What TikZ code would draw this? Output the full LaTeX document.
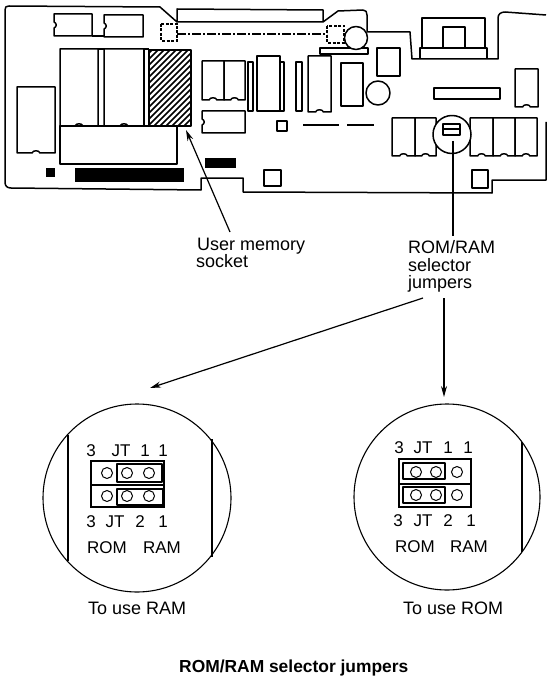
\documentclass[tikz,border=0pt]{standalone}
\usepackage{fontspec}
\setmainfont{Liberation Sans}
\usetikzlibrary{arrows.meta}
\tikzset{
  board/.style={line width=1.5pt,line join=round,black},
  thin part/.style={line width=1.1pt,black},
  dash part/.style={line width=1.1pt,dash pattern=on 3pt off 1.5pt,black},
  leader/.style={line width=1.2pt,black},
  tipped/.style={leader,-{Stealth[length=11pt,width=6pt]}},
  lab/.style={anchor=base west,inner sep=0pt,font=\fontsize{18}{20}\selectfont},
  jp/.style={anchor=base,inner sep=0pt,font=\fontsize{17}{20}\selectfont},
  pin/.style={circle,draw,line width=1pt,minimum size=11pt,inner sep=0pt},
}
% chip whose bottom edge has a notch at its centre, dented upwards
\newcommand{\chipb}[4]{\draw[board] (#1,#2) -- (#3,#2) -- (#3,#4) -- ({(#1+#3)/2+4},#4) .. controls ({(#1+#3)/2+3},{#4-3}) and ({(#1+#3)/2-3},{#4-3}) .. ({(#1+#3)/2-4},#4) -- (#1,#4) -- cycle;}
% chip whose left edge has a notch at its centre, dented inwards
\newcommand{\chipl}[4]{\draw[board] (#1,#2) -- (#3,#2) -- (#3,#4) -- (#1,#4) -- (#1,{(#2+#4)/2+3}) .. controls ({#1+3},{(#2+#4)/2+2}) and ({#1+3},{(#2+#4)/2-2}) .. (#1,{(#2+#4)/2-3}) -- cycle;}
\begin{document}
\begin{tikzpicture}[x=1pt,y=-1pt]
\useasboundingbox (0,0) rectangle (547,679);
% board outline
\draw[board] (9,6) -- (160,7) -- (177,22) -- (177,9) -- (323,10) -- (323,22) -- (177,22)
  (323,22) -- (338,11) -- (363,10) .. controls (366,10) and (367,12) .. (367,15) -- (367,32) -- (410,32)
  -- (412,59) -- (498,59) -- (498,18) .. controls (498,14) and (501,12) .. (505,12) -- (546,15)
  (546,122) -- (546,180) -- (492,180) -- (492,193) -- (243,192) -- (243,178) -- (201,178) -- (201,190)
  -- (11,188) .. controls (7,188) and (5,186) .. (5,182) -- (5,10) .. controls (5,7) and (6,6) .. (9,6);
% top-left
\chipl{54}{14}{92}{36}
\chipl{104}{15}{143}{37}
\draw[board] (92,36) -- (104,36);
\draw[dash part] (161,24) rectangle (177,41);
\draw[dash part] (327,26) rectangle (344,43);
\draw[line width=1.1pt,dash pattern=on 9pt off 2pt on 2pt off 2pt,black] (177,34) -- (327,34);
% memory block
\chipb{60}{49}{98}{126}
\chipb{104}{49}{144}{126}
\draw[board] (98,49) -- (104,49) (144,49) -- (149,49) (144,49)--(144,126);
\draw[board] (60,126) -- (177,126) -- (177,164) -- (60,164) -- cycle;
\begin{scope}
  \clip (149,50) rectangle (191,126);
  \foreach \k in {60,66,...,200}{\draw[line width=1.5pt,black] (\k,130) -- (\k+90,40);}
\end{scope}
\draw[board] (149,50) rectangle (191,126);
\chipb{17}{87}{55}{153}
\fill[black] (46,168) rectangle (55,177);
\fill[black] (75,168) rectangle (184,182);
\fill[black] (205,158) rectangle (236,168);
% middle
\chipb{202}{61}{224}{100}
\chipb{224}{61}{245}{100}
\draw[board] (248,62) rectangle (253,111);
\chipl{202}{111}{245}{133}
\draw[board] (257,56) rectangle (280,111);
\draw[board] (280,62) rectangle (284,111);
\draw[board] (296,62) rectangle (302,111);
\chipb{308}{56}{331}{112}
\draw[board] (341,63) rectangle (363,106);
\draw[board] (378,93) circle (12);
\draw[board] (377,48) rectangle (400,76);
\draw[board] (320,48) rectangle (368,54);
\draw[board,fill=white] (356,38) circle (11.5);
\draw[board] (277,121) rectangle (287,131);
\draw[board] (303,125) -- (339,125) (347,125) -- (374,125);
\draw[board] (264,170) rectangle (281,186);
\draw[board] (472,170) rectangle (488,188);
% connector on the right
\draw[board] (422,48) -- (422,18) -- (485,18) -- (485,48) (443,48) -- (443,27) -- (465,27) -- (465,48);
\draw[board] (420,59) -- (420,48) -- (487,48) -- (487,59);
\draw[board] (434,88) rectangle (500,99);
\chipb{515}{69}{538}{107}
% lower right row
\chipb{392}{118}{415}{156}
\chipb{415}{118}{436}{156}
\chipb{470}{118}{493}{156}
\chipb{493}{118}{515}{156}
\chipb{515}{118}{537}{156}
\draw[board,fill=white] (452,134.5) circle (19);
\draw[board] (443,124) rectangle (460,135) (443,129) -- (460,129);
\coordinate (sel) at (453,141);
\coordinate (selend) at (453,236);
\coordinate (memtip) at (186,130);
\coordinate (memend) at (230,232);
\draw[leader] (sel) -- (selend);
\draw[tipped] (memend) -- (memtip);
% labels
\node[lab] (um1) at (197,250) {User memory};
\node[lab] (um2) at (196,267) {socket};
\node[lab] (sj1) at (408,253) {ROM/RAM};
\node[lab] (sj2) at (408,271) {selector};
\node[lab] (sj3) at (408,288) {jumpers};
% arrows to details
\coordinate (a0) at (423,298);
\coordinate (a1) at (150,388);
\coordinate (b0) at (444,298);
\coordinate (b1) at (444,397);
\draw[tipped] (a0) -- (a1);
\draw[tipped] (b0) -- (b1);
% left detail
\draw[line width=1.1pt] (137,498) circle (94);
\draw[line width=1.1pt] (68,435) -- (68,561) (212,439) -- (212,557);
\draw[line width=1.1pt] (91,461) rectangle (164,507) (91,485) -- (164,485);
\draw[board] (117,464) rectangle (162,482);
\draw[board] (117,489) rectangle (163,505);
\node[pin] (l1) at (107,473) {}; \node[pin] (l2) at (127,473) {}; \node[pin] (l3) at (149,473) {};
\node[pin] (l4) at (107,496) {}; \node[pin] (l5) at (127,496) {}; \node[pin] (l6) at (149,496) {};
\node[jp] (lt1) at (91,456) {3}; \node[jp] (lt2) at (121,456) {JT}; \node[jp] (lt3) at (145,456) {1}; \node[jp] (lt4) at (163,456) {1};
\node[jp] (lb1) at (91,527) {3}; \node[jp] (lb2) at (115,527) {JT}; \node[jp] (lb3) at (140,527) {2}; \node[jp] (lb4) at (163,527) {1};
\node[jp] (lrom) at (107,553) {ROM}; \node[jp] (lram) at (162,553) {RAM};
\node[lab] (tram) at (88,614) {To use RAM};
% right detail
\draw[line width=1.1pt] (447,497) circle (93);
\draw[line width=1.1pt] (522,442) -- (522,552);
\draw[line width=1.1pt] (399,459) rectangle (471,507) (399,484) -- (471,484);
\draw[board] (403,463) rectangle (445,479);
\draw[board] (403,487) rectangle (445,503);
\node[pin] (r1) at (416,472) {}; \node[pin] (r2) at (436,472) {}; \node[pin] (r3) at (457,472) {};
\node[pin] (r4) at (416,495) {}; \node[pin] (r5) at (436,495) {}; \node[pin] (r6) at (457,495) {};
\node[jp] (rt1) at (399,453) {3}; \node[jp] (rt2) at (423,453) {JT}; \node[jp] (rt3) at (448,453) {1}; \node[jp] (rt4) at (468,453) {1};
\node[jp] (rb1) at (398,526) {3}; \node[jp] (rb2) at (423,526) {JT}; \node[jp] (rb3) at (448,526) {2}; \node[jp] (rb4) at (471,526) {1};
\node[jp] (rrom) at (415,552) {ROM}; \node[jp] (rram) at (469,552) {RAM};
\node[lab] (trom) at (403,614) {To use ROM};
% title
\node[lab,font=\fontsize{17.4}{20}\selectfont\bfseries] (title) at (179,672) {ROM/RAM selector jumpers};
\end{tikzpicture}
\end{document}
